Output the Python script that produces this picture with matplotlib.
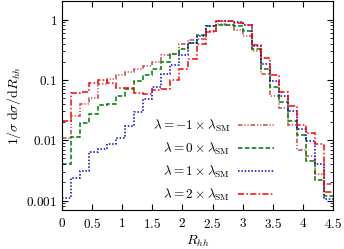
import numpy as np
import matplotlib
matplotlib.use("Agg")
import matplotlib.pyplot as plt
from matplotlib.ticker import LogLocator, FixedLocator, FixedFormatter, NullFormatter

plt.rcParams['mathtext.fontset'] = 'cm'
plt.rcParams['font.family'] = 'serif'
plt.rcParams['font.serif'] = ['DejaVu Serif']

edges = np.linspace(0, 4.5, 31)

# lambda = -1 x SM
lam_m1 = [0.011, 0.025, 0.040, 0.050, 0.085, 0.105, 0.12, 0.135, 0.15, 0.17,
          0.20, 0.26, 0.27, 0.40, 0.46, 0.47, 0.63, 0.85, 0.82, 0.66,
          0.54, 0.30, 0.127, 0.055, 0.034, 0.018, 0.0068, 0.0055, 0.0028, 0.0019]
# lambda = 0 x SM
lam_0 = [0.0041, 0.0113, 0.019, 0.027, 0.038, 0.040, 0.055, 0.071, 0.096, 0.12,
         0.15, 0.20, 0.27, 0.33, 0.41, 0.56, 0.77, 0.80, 0.80, 0.78,
         0.64, 0.33, 0.15, 0.076, 0.043, 0.021, 0.0124, 0.0045, 0.0022, 0.0012]
# lambda = 1 x SM
lam_1 = [0.0011, 0.0024, 0.0031, 0.0064, 0.0071, 0.0085, 0.011, 0.017, 0.029, 0.049,
         0.076, 0.127, 0.178, 0.26, 0.41, 0.54, 0.78, 0.93, 0.96, 0.90,
         0.80, 0.36, 0.18, 0.095, 0.055, 0.031, 0.0155, 0.0098, 0.0041, 0.00105]
# lambda = 2 x SM
lam_2 = [0.021, 0.060, 0.064, 0.088, 0.098, 0.09, 0.073, 0.073, 0.061, 0.058,
         0.068, 0.07, 0.098, 0.153, 0.224, 0.39, 0.65, 0.96, 0.96, 0.88,
         0.80, 0.38, 0.23, 0.12, 0.063, 0.037, 0.018, 0.0134, 0.0085, 0.0014]

labels = [r'$\lambda = -1 \times \lambda_{\rm SM}$', r'$\lambda = 0 \times \lambda_{\rm SM}$',
          r'$\lambda = 1 \times \lambda_{\rm SM}$', r'$\lambda = 2 \times \lambda_{\rm SM}$']

fig = plt.figure(figsize=(3.44, 2.49), dpi=100)
ax = fig.add_axes([0.180, 0.157, 0.788, 0.840])

lw = 1.1
ax.stairs(lam_m1, edges, baseline=None, color='#c04848', lw=lw,
          linestyle=(0, (3, 1.2, 0.8, 1.2, 0.8, 1.2)), label=labels[0])
ax.stairs(lam_0, edges, baseline=None, color='#007800', lw=lw,
          linestyle=(0, (3, 1.5)), label=labels[1])
ax.stairs(lam_1, edges, baseline=None, color='#0000c8', lw=lw,
          linestyle=(0, (1, 1.2)), label=labels[2])
ax.stairs(lam_2, edges, baseline=None, color='#ff0000', lw=lw,
          linestyle=(0, (4, 1.5, 1, 1.5)), label=labels[3])

ax.set_yscale('log')
ax.set_xlim(0, 4.5)
ax.set_ylim(0.0007, 2.05)

xt = [0, 0.5, 1, 1.5, 2, 2.5, 3, 3.5, 4, 4.5]
ax.xaxis.set_major_locator(FixedLocator(xt))
ax.xaxis.set_major_formatter(FixedFormatter(['$%g$' % v for v in xt]))
yt = [0.001, 0.01, 0.1, 1]
ax.yaxis.set_major_locator(FixedLocator(yt))
ax.yaxis.set_major_formatter(FixedFormatter(['$0.001$', '$0.01$', '$0.1$', '$1$']))
ax.yaxis.set_minor_locator(LogLocator(base=10, subs=np.arange(2, 10)))
ax.yaxis.set_minor_formatter(NullFormatter())

ax.tick_params(which='both', direction='in', top=True, right=True, labelsize=9.5)
ax.tick_params(which='major', length=4, width=0.8)
ax.tick_params(which='minor', length=2, width=0.6)
ax.tick_params(axis='x', pad=5)

ax.set_xlabel(r'$R_{hh}$', fontsize=10, labelpad=2)
ax.set_ylabel(r'$1/\sigma\;{\rm d}\sigma/{\rm d}R_{hh}$', fontsize=10, labelpad=2)

ax.legend(loc='lower right', bbox_to_anchor=(0.815, -0.01), frameon=False, markerfirst=False,
          fontsize=9.5, handlelength=2.7, handletextpad=0.6, labelspacing=0.5,
          borderaxespad=0.3)

fig.savefig('out.png', dpi=100)
